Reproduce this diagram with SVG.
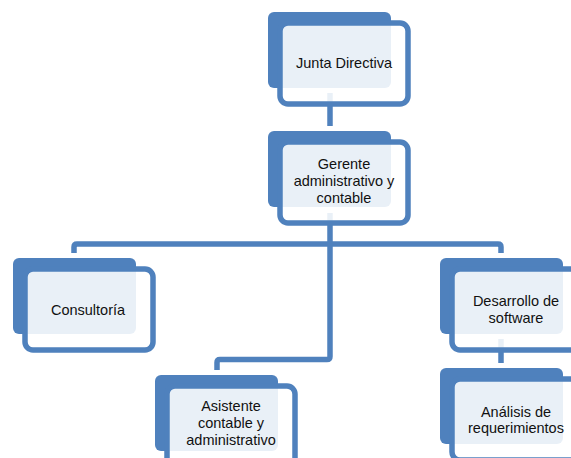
<svg xmlns="http://www.w3.org/2000/svg" width="571" height="458" viewBox="0 0 571 458">
  <style>
    .back { fill: #4F81BD; }
    .front { fill: #FFFFFF; fill-opacity: 0.88; stroke: #4F81BD; stroke-width: 5.5; }
    .link { fill: none; stroke: #4F81BD; stroke-width: 5.5; stroke-linejoin: round; }
    .label { font-family: "Liberation Sans", Arial, sans-serif; font-size: 14.5px; fill: #111111; text-anchor: middle; }
  </style>
  <rect width="571" height="458" fill="#FFFFFF"/>

  <!-- connectors sit under the cards -->
  <g id="connectors">
    <path class="link" d="M330,93 V126"/>
    <path class="link" d="M74,253 V247 Q74,244 77,244 H498 Q501,244 501,247 V253"/>
    <path class="link" d="M330,213 V356.5 Q330,359.5 327,359.5 H220 Q217,359.5 217,362.5 V370"/>
    <path class="link" d="M501,339 V363"/>
  </g>

  <g id="junta-directiva">
    <rect class="back" x="268" y="12" width="123" height="76" rx="6"/>
    <rect class="front" x="280" y="23" width="128" height="81" rx="8"/>
    <text class="label" x="344" y="68">Junta Directiva</text>
  </g>

  <g id="gerente">
    <rect class="back" x="268" y="131" width="123" height="76" rx="6"/>
    <rect class="front" x="280" y="142" width="128" height="81" rx="8"/>
    <text class="label" x="344" y="169">Gerente</text>
    <text class="label" x="344" y="186">administrativo y</text>
    <text class="label" x="344" y="203">contable</text>
  </g>

  <g id="consultoria">
    <rect class="back" x="13" y="258" width="123" height="76" rx="6"/>
    <rect class="front" x="25" y="269" width="128" height="81" rx="8"/>
    <text class="label" x="88" y="315">Consultoría</text>
  </g>

  <g id="desarrollo">
    <rect class="back" x="440" y="258" width="123" height="76" rx="6"/>
    <rect class="front" x="452" y="269" width="128" height="81" rx="8"/>
    <text class="label" x="516" y="306">Desarrollo de</text>
    <text class="label" x="516" y="323">software</text>
  </g>

  <g id="asistente">
    <rect class="back" x="155" y="375" width="123" height="76" rx="6"/>
    <rect class="front" x="167" y="386" width="128" height="81" rx="8"/>
    <text class="label" x="231" y="411">Asistente</text>
    <text class="label" x="231" y="428">contable y</text>
    <text class="label" x="231" y="445">administrativo</text>
  </g>

  <g id="analisis">
    <rect class="back" x="440" y="368" width="123" height="76" rx="6"/>
    <rect class="front" x="452" y="379" width="128" height="81" rx="8"/>
    <text class="label" x="516" y="417">Análisis de</text>
    <text class="label" x="516" y="433">requerimientos</text>
  </g>
</svg>
